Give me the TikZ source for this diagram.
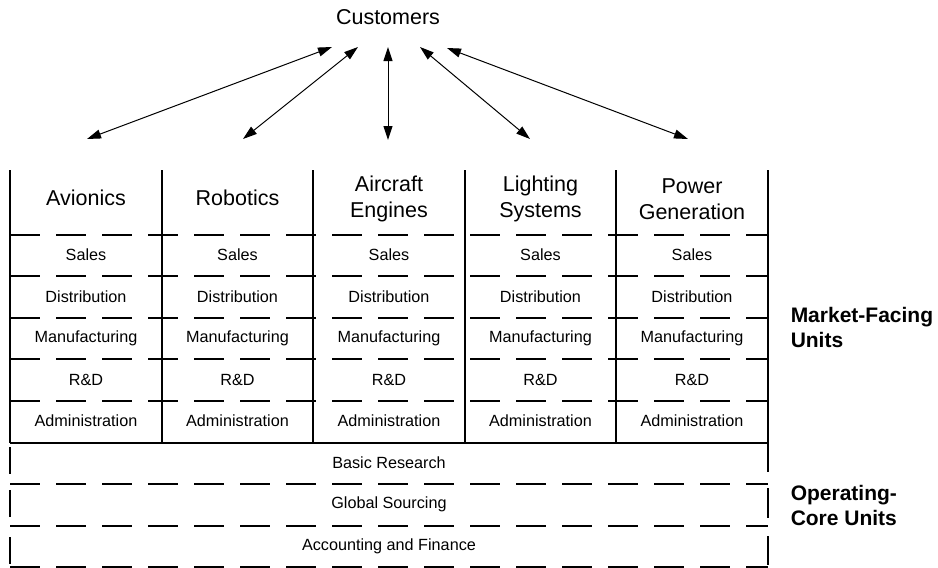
\documentclass[tikz,border=0pt]{standalone}
\usepackage{fontspec}
\setmainfont{Liberation Sans}
\usetikzlibrary{arrows.meta}
\begin{document}
\begin{tikzpicture}[x=1pt,y=-1pt, line width=1.5pt,
  dline/.style={dash pattern=on 30pt off 16pt},
  bigtext/.style={font=\fontsize{21.5}{26}\selectfont, align=center, inner sep=0pt},
  smalltext/.style={font=\fontsize{16.2}{19}\selectfont, inner sep=0pt},
  sidetext/.style={font=\bfseries\fontsize{21}{25}\selectfont, align=left, anchor=west, inner sep=0pt},
  biarrow/.style={{Triangle[length=14pt,width=9pt]}-{Triangle[length=14pt,width=9pt]}, line width=1pt}]
\useasboundingbox (0,0) rectangle (938,568);

% Customers and arrows
\node[bigtext] (cust) at (388,17) {Customers};
\coordinate (u1) at (332,47); \coordinate (d1) at (87,139);
\coordinate (u2) at (358,47); \coordinate (d2) at (243,139);
\coordinate (u3) at (388,47); \coordinate (d3) at (388,140);
\coordinate (u4) at (420,47); \coordinate (d4) at (530,139);
\coordinate (u5) at (447,48); \coordinate (d5) at (688,139);
\foreach \i in {1,...,5} { \draw[biarrow] (u\i) -- (d\i); }

% vertical column lines
\foreach \x in {10,162,313,465,616,768} { \draw (\x,170) -- (\x,443); }
% dashed row separators in market-facing part
\foreach \y in {235,276,318,359,401} { \draw[dline] (10,\y) -- (768,\y); }
\draw (10,443) -- (768,443);

% operating core
\draw (10,447) -- (10,474);
\draw (768,443) -- (768,472);
\draw[dline] (10,484) -- (768,484);
\draw (10,490) -- (10,517);
\draw (768,488) -- (768,518);
\draw[dline] (10,526) -- (768,526);
\draw (10,537) -- (10,564);
\draw (768,536) -- (768,565);
\draw[dline] (10,567) -- (768,567);

% column titles
\node[bigtext] (t1) at (86,198) {Avionics};
\node[bigtext] (t2) at (237.5,198) {Robotics};
\node[bigtext] (t3) at (389,199) {Aircraft\\Engines};
\node[bigtext] (t4) at (540.5,199) {Lighting\\Systems};
\node[bigtext] (t5) at (692,199) {Power\\Generation};

% rows
\foreach \i/\x in {1/86,2/237.5,3/389,4/540.5,5/692} {
  \node[smalltext] (s\i) at (\x,255) {Sales};
  \node[smalltext] (di\i) at (\x,297) {Distribution};
  \node[smalltext] (m\i) at (\x,338) {Manufacturing};
  \node[smalltext] (r\i) at (\x,380) {R\&D};
  \node[smalltext] (ad\i) at (\x,421) {Administration};
}

\node[smalltext] (br) at (389,463) {Basic Research};
\node[smalltext] (gs) at (389,504) {Global Sourcing};
\node[smalltext] (af) at (389,546) {Accounting and Finance};

\node[sidetext] (mf) at (790,327) {Market-Facing\\Units};
\node[sidetext] (oc) at (790,505) {Operating-\\Core Units};
\end{tikzpicture}
\end{document}
